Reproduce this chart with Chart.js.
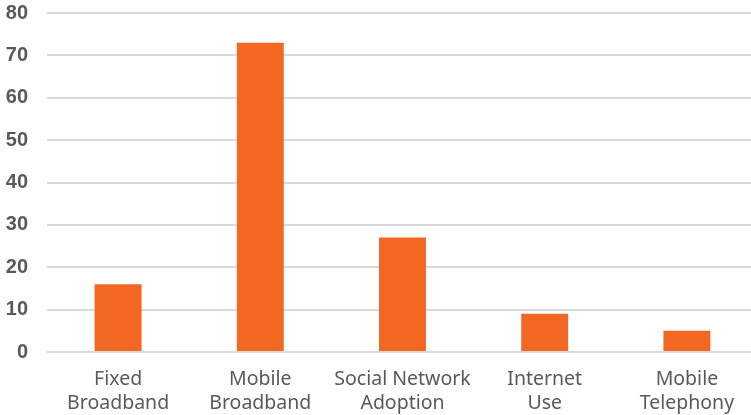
<!DOCTYPE html>
<html>
<head>
<meta charset="utf-8">
<script src="https://cdn.jsdelivr.net/npm/chart.js@4"></script>
<style>
html,body{margin:0;padding:0;overflow:hidden;background:#fff;}
#wrap{position:relative;width:758px;height:415px;}
</style>
</head>
<body>
<div id="wrap"><canvas id="c"></canvas></div>
<script>
const categories = [["Fixed","Broadband"],["Mobile","Broadband"],["Social Network","Adoption"],["Internet","Use"],["Mobile","Telephony"]];
const values = [16, 73, 27, 9, 5];
const yTicks = [0,10,20,30,40,50,60,70,80];

new Chart(document.getElementById('c'), {
  type: 'bar',
  data: {
    labels: categories,
    datasets: [{
      data: values,
      backgroundColor: '#F26722',
      barPercentage: 0.33,
      categoryPercentage: 1.0
    }]
  },
  options: {
    responsive: true,
    maintainAspectRatio: false,
    animation: false,
    layout: { padding: 0 },
    plugins: { legend: { display: false }, tooltip: { enabled: false } },
    scales: {
      x: {
        grid: { display: false, drawTicks: false },
        border: { display: false },
        afterFit: (ax) => { ax.height = 63; },
        ticks: {
          color: '#595959',
          font: { family: 'Noto Sans', size: 19.5, lineHeight: 1.25 },
          padding: 15,
          maxRotation: 0,
          autoSkip: false
        }
      },
      y: {
        min: 0, max: 80,
        afterBuildTicks: (ax) => { ax.ticks = yTicks.map(v => ({ value: v })); },
        afterFit: (ax) => { ax.width = 47; ax.paddingTop = 13; ax.paddingBottom = 0; },
        grid: { color: '#D9D9D9', lineWidth: 2, drawTicks: false },
        border: { display: false },
        ticks: {
          color: '#595959',
          font: { family: 'Liberation Sans', size: 20, weight: 'bold' },
          padding: 19
        }
      }
    }
  }
});
</script>
</body>
</html>
